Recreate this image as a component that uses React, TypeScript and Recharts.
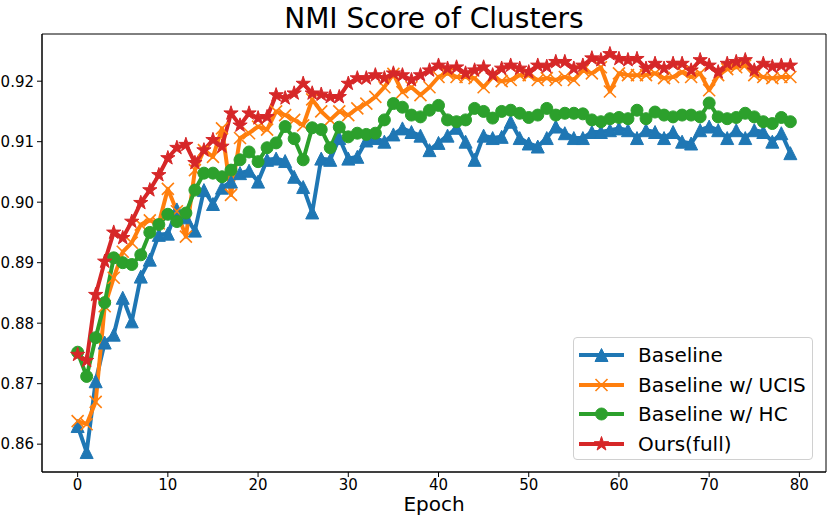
import React from 'react'
import { Legend, Line, LineChart, ReferenceArea, XAxis, YAxis } from 'recharts'

// NMI per epoch (0..79)
const baseline = [
  0.863, 0.8587, 0.8704, 0.8768, 0.8781, 0.8842, 0.8803, 0.8877, 0.8905, 0.8946,
  0.8948, 0.8988, 0.8975, 0.8953, 0.902, 0.8997, 0.9024, 0.9034, 0.9048, 0.9052,
  0.9034, 0.907, 0.9072, 0.9068, 0.9042, 0.9025, 0.8983, 0.9072, 0.907, 0.9106,
  0.9072, 0.9075, 0.9102, 0.9106, 0.91, 0.9112, 0.9122, 0.9116, 0.911, 0.9086,
  0.9098, 0.911, 0.9123, 0.91, 0.907, 0.911, 0.9106, 0.9108, 0.9133, 0.9106,
  0.9097, 0.9092, 0.9106, 0.9125, 0.9114, 0.9106, 0.9106, 0.9116, 0.9116, 0.9119,
  0.9122, 0.9119, 0.9106, 0.9119, 0.9116, 0.9106, 0.9116, 0.91, 0.9097, 0.9119,
  0.9125, 0.9119, 0.9106, 0.9119, 0.9106, 0.9119, 0.9116, 0.91, 0.9114, 0.9081,
]

const ucis = [
  0.8638, 0.8633, 0.867, 0.8828, 0.8875, 0.8918, 0.8933, 0.8963, 0.897, 0.8965,
  0.9022, 0.8985, 0.8943, 0.9053, 0.9086, 0.9075, 0.9122, 0.9012, 0.9106, 0.9114,
  0.9125, 0.912, 0.915, 0.9144, 0.9136, 0.9127, 0.917, 0.915, 0.9136, 0.915,
  0.9144, 0.9155, 0.9163, 0.9174, 0.919, 0.9212, 0.9182, 0.919, 0.9177, 0.919,
  0.9207, 0.9213, 0.9207, 0.9207, 0.9205, 0.919, 0.9207, 0.92, 0.9202, 0.921,
  0.921, 0.9202, 0.9205, 0.9202, 0.9207, 0.9202, 0.9218, 0.9213, 0.9223, 0.9183,
  0.9213, 0.921, 0.921, 0.921, 0.9213, 0.9205, 0.9207, 0.9215, 0.9207, 0.9213,
  0.9185, 0.921, 0.922, 0.9223, 0.9226, 0.921, 0.9207, 0.9205, 0.9207, 0.9207,
]

const hc = [
  0.8752, 0.8712, 0.8776, 0.8834, 0.8908, 0.89, 0.8897, 0.8913, 0.895, 0.8963,
  0.898, 0.8968, 0.8982, 0.902, 0.9048, 0.9048, 0.9042, 0.9053, 0.907, 0.9083,
  0.9067, 0.909, 0.9098, 0.9125, 0.9105, 0.907, 0.9123, 0.912, 0.909, 0.9124,
  0.9108, 0.9114, 0.9112, 0.9114, 0.9136, 0.9163, 0.9157, 0.9144, 0.9141, 0.9152,
  0.916, 0.9136, 0.9133, 0.9136, 0.9155, 0.915, 0.9139, 0.915, 0.9152, 0.9147,
  0.914, 0.9144, 0.9155, 0.9144, 0.9147, 0.9147, 0.9146, 0.9136, 0.9133, 0.9138,
  0.914, 0.9138, 0.9152, 0.9138, 0.9149, 0.9144, 0.9141, 0.9144, 0.9144, 0.9141,
  0.9164, 0.9141, 0.9138, 0.914, 0.9147, 0.9141, 0.9133, 0.913, 0.914, 0.9133,
]

const ours = [
  0.8748, 0.8738, 0.8847, 0.8902, 0.895, 0.8941, 0.8968, 0.8999, 0.902, 0.9045,
  0.9073, 0.909, 0.9095, 0.9065, 0.9086, 0.9103, 0.9092, 0.9147, 0.9127, 0.9147,
  0.9139, 0.9141, 0.9177, 0.9172, 0.918, 0.9196, 0.918, 0.9178, 0.9174, 0.9174,
  0.9196, 0.9205, 0.9205, 0.921, 0.9205, 0.9213, 0.921, 0.9202, 0.921, 0.9218,
  0.9226, 0.9221, 0.9223, 0.9213, 0.9218, 0.9223, 0.921, 0.9221, 0.9226, 0.9221,
  0.9215, 0.9226, 0.9224, 0.9232, 0.9232, 0.9221, 0.9226, 0.9238, 0.9235, 0.9245,
  0.9237, 0.9235, 0.9237, 0.9221, 0.9229, 0.9221, 0.9229, 0.9229, 0.9218, 0.9235,
  0.9226, 0.9215, 0.9229, 0.9232, 0.9235, 0.9218, 0.9229, 0.9224, 0.9226, 0.9226,
]

const xTicks = [0, 10, 20, 30, 40, 50, 60, 70, 80]
const yTicks = [0.86, 0.87, 0.88, 0.89, 0.9, 0.91, 0.92]

const FONT = '"DejaVu Sans", sans-serif'

const series = [
  { key: 'baseline', name: 'Baseline', color: '#1f77b4', marker: 'triangle' },
  { key: 'ucis', name: 'Baseline w/ UCIS', color: '#ff7f0e', marker: 'x' },
  { key: 'hc', name: 'Baseline w/ HC', color: '#2ca02c', marker: 'circle' },
  { key: 'ours', name: 'Ours(full)', color: '#d62728', marker: 'star' },
]

const data = baseline.map((v, i) => ({
  epoch: i,
  baseline: v,
  ucis: ucis[i],
  hc: hc[i],
  ours: ours[i],
}))

function starPath(cx: number, cy: number, R: number, r: number) {
  let d = ''
  for (let i = 0; i < 10; i++) {
    const a = ((-90 + i * 36) * Math.PI) / 180
    const rad = i % 2 === 0 ? R : r
    d += `${i === 0 ? 'M' : 'L'}${cx + rad * Math.cos(a)},${cy + rad * Math.sin(a)}`
  }
  return d + 'Z'
}

function Marker({ kind, x, y, color }: { kind: string; x: number; y: number; color: string }) {
  if (kind === 'triangle') {
    return <path d={`M${x},${y - 6.5}L${x - 6.5},${y + 6.5}L${x + 6.5},${y + 6.5}Z`} fill={color} stroke={color} strokeWidth={1} />
  }
  if (kind === 'circle') {
    return <circle cx={x} cy={y} r={6} fill={color} stroke={color} strokeWidth={1} />
  }
  if (kind === 'x') {
    return (
      <path
        d={`M${x - 6},${y - 6}L${x + 6},${y + 6}M${x - 6},${y + 6}L${x + 6},${y - 6}`}
        stroke={color}
        strokeWidth={1.6}
        fill="none"
      />
    )
  }
  return <path d={starPath(x, y, 7.5, 2.9)} fill={color} stroke={color} strokeWidth={1} />
}

const makeDot = (kind: string, color: string) => (props: any) => {
  const { cx, cy, index } = props
  if (cx == null || cy == null) return <g key={`${kind}-${index}`} />
  return (
    <g key={`${kind}-${index}`}>
      <Marker kind={kind} x={cx} y={cy} color={color} />
    </g>
  )
}

function LegendBox() {
  return (
    <div
      style={{
        width: 240,
        height: 123,
        boxSizing: 'border-box',
        border: '1px solid #d0d0d0',
        borderRadius: 4,
        background: 'rgba(255,255,255,0.8)',
        paddingTop: 2,
        fontFamily: FONT,
        fontSize: 20,
        color: '#000',
      }}
    >
      {series.map((s) => (
        <div key={s.key} style={{ display: 'flex', alignItems: 'center', height: 29.7 }}>
          <svg width={62} height={26} style={{ flex: 'none' }}>
            <line x1={5} x2={50} y1={13} y2={13} stroke={s.color} strokeWidth={4} />
            <Marker kind={s.marker} x={27.5} y={13} color={s.color} />
          </svg>
          <span style={{ marginLeft: 2, whiteSpace: 'nowrap', lineHeight: '24px' }}>{s.name}</span>
        </div>
      ))}
    </div>
  )
}

export default function App() {
  return (
    <div style={{ position: 'absolute', left: 0, top: 0, width: 831, height: 521, background: '#fff' }}>
      <div
        style={{
          position: 'absolute',
          left: 42,
          top: 4.6,
          width: 784,
          textAlign: 'center',
          fontFamily: FONT,
          fontSize: 28,
          lineHeight: '28px',
          color: '#000',
        }}
      >
        NMI Score of Clusters
      </div>
      <LineChart width={831} height={521} data={data} margin={{ top: 34, right: 5, bottom: 0, left: 0 }}>
        <XAxis
          dataKey="epoch"
          type="number"
          domain={[-3.95, 82.95]}
          ticks={xTicks}
          allowDataOverflow
          height={49}
          tickSize={5}
          tickMargin={2}
          stroke="#000"
          tick={{ fill: '#000', fontSize: 15, fontFamily: FONT }}
          label={{ value: 'Epoch', position: 'insideBottom', offset: 10, fontSize: 20, fill: '#000', fontFamily: FONT }}
        />
        <YAxis
          type="number"
          domain={[0.8554, 0.9278]}
          ticks={yTicks}
          allowDataOverflow
          width={42}
          tickSize={5}
          tickMargin={3}
          stroke="#000"
          tickFormatter={(v) => Number(v).toFixed(2)}
          tick={{ fill: '#000', fontSize: 15, fontFamily: FONT }}
        />
        <ReferenceArea x1={-3.95} x2={82.95} y1={0.8554} y2={0.9278} fill="none" stroke="#000" strokeWidth={1} ifOverflow="visible" />
        {series.map((s) => (
          <Line
            key={s.key}
            type="linear"
            dataKey={s.key}
            name={s.name}
            stroke={s.color}
            strokeWidth={4}
            strokeLinejoin="round"
            dot={makeDot(s.marker, s.color)}
            activeDot={false}
            isAnimationActive={false}
          />
        ))}
        <Legend
          layout="horizontal"
          verticalAlign="middle"
          align="center"
          wrapperStyle={{ left: 573, top: 337, width: 240, height: 123, right: 'auto', bottom: 'auto' }}
          content={() => <LegendBox />}
        />
      </LineChart>
    </div>
  )
}
